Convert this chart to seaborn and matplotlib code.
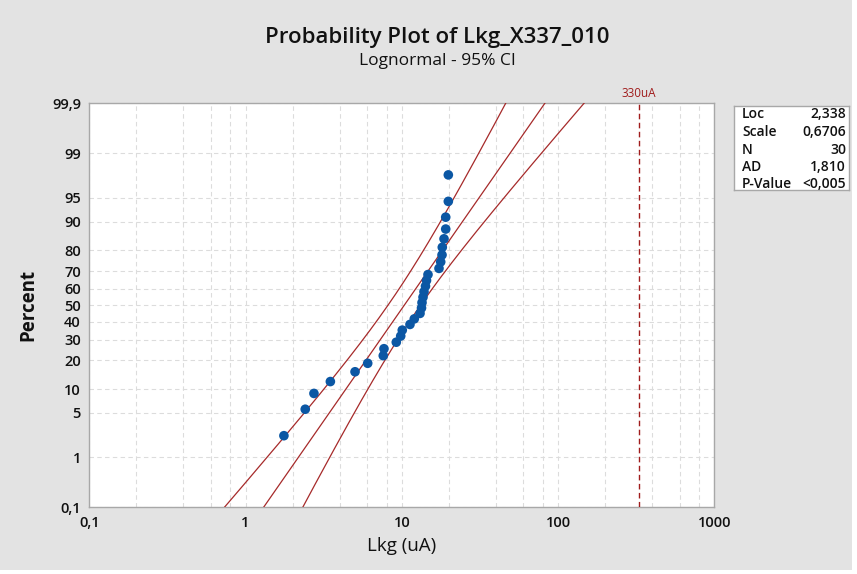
import numpy as np
import pandas as pd
import matplotlib
matplotlib.use("Agg")
import matplotlib.pyplot as plt
import matplotlib.transforms as mtransforms
from matplotlib.patches import Rectangle
import seaborn as sns
from statistics import NormalDist

# ---------------- data ----------------
lkg = [1.76, 2.41, 2.74, 3.49, 5.02, 6.05, 7.61, 7.69, 9.22, 9.84,
       10.07, 11.28, 12.02, 13.08, 13.37, 13.47, 13.67, 13.87, 14.18, 14.39,
       14.71, 17.30, 17.74, 18.09, 18.16, 18.63, 19.10, 19.10, 19.85, 19.85]
percent = [2.303, 5.592, 8.882, 12.171, 15.461, 18.750, 22.039, 25.329, 28.618, 31.908,
           35.197, 38.487, 41.776, 45.066, 48.355, 51.645, 54.934, 58.224, 61.513, 64.803,
           68.092, 71.382, 74.671, 77.961, 81.250, 84.539, 87.829, 91.118, 94.408, 97.697]
loc_ = 2.338
scale_ = 0.6706
n_obs = 30
stat_names = ["Loc", "Scale", "N", "AD", "P-Value"]
stat_values = ["2,338", "0,6706", "30", "1,810", "<0,005"]
limit_value = 330
limit_label = "330uA"
x_ticks = [0.1, 1, 10, 100, 1000]
x_ticklabels = ["0,1", "1", "10", "100", "1000"]
y_ticks = [0.1, 1, 5, 10, 20, 30, 40, 50, 60, 70, 80, 90, 95, 99, 99.9]
y_ticklabels = ["0,1", "1", "5", "10", "20", "30", "40", "50", "60", "70",
                "80", "90", "95", "99", "99,9"]

# ---------------- probability scale ----------------
_nd = NormalDist()
_ppf = np.vectorize(_nd.inv_cdf, otypes=[float])
_cdf = np.vectorize(_nd.cdf, otypes=[float])


def fwd(p):
    p = np.clip(np.asarray(p, dtype=float) / 100.0, 1e-12, 1 - 1e-12)
    return _ppf(p)


def inv(z):
    return _cdf(np.asarray(z, dtype=float)) * 100.0


sns.set_theme(style="white")
plt.rcParams["font.family"] = ["Open Sans", "DejaVu Sans"]

W, H = 857, 574
fig = plt.figure(figsize=(W / 100, H / 100), dpi=100, facecolor="white")
fig.patches.append(Rectangle((0, 4 / H), 852 / W, 570 / H, transform=fig.transFigure,
                             facecolor="#E3E3E3", edgecolor="none", zorder=-10))

ax = fig.add_axes([89.3 / W, 1 - 507.3 / H, 625 / W, 404 / H])
ax.set_facecolor("white")
ax.set_xscale("log")
ax.set_yscale("function", functions=(fwd, inv))

# fitted line and 95% CI from displayed parameters
z = np.linspace(-3.4, 3.4, 300)
pct_line = inv(z)
ln_fit = loc_ + z * scale_
se = scale_ * np.sqrt(1.0 / n_obs + z ** 2 / (2.0 * n_obs))
lines = pd.DataFrame({
    "pct": np.concatenate([pct_line] * 3),
    "x": np.concatenate([np.exp(ln_fit), np.exp(ln_fit - 1.96 * se), np.exp(ln_fit + 1.96 * se)]),
    "which": ["fit"] * len(z) + ["lo"] * len(z) + ["hi"] * len(z),
})
line_col = "#A62A2A"
sns.lineplot(data=lines, x="x", y="pct", units="which", estimator=None, sort=False,
             color=line_col, lw=0.9, ax=ax, zorder=3)

pts = pd.DataFrame({"lkg": lkg, "percent": percent})
sns.scatterplot(data=pts, x="lkg", y="percent", s=48, color="#0B57A4",
                edgecolor="none", ax=ax, zorder=5)

ax.axvline(limit_value, color="#A01C1C", ls=(0, (4, 2.5)), lw=1.0, zorder=4)
trans = mtransforms.blended_transform_factory(ax.transData, ax.transAxes)
ax.text(limit_value, 1.008, limit_label, transform=trans, ha="center", va="bottom",
        color="#A01C1C", fontsize=8.5)

ax.set_xlim(0.1, 1000)
ax.set_ylim(0.1, 99.9)

ax.set_xticks(x_ticks)
ax.set_xticklabels(x_ticklabels)
minor = [k * 10.0 ** d for d in range(-1, 3) for k in (2, 4, 6, 8)]
ax.set_xticks(minor, minor=True)
ax.xaxis.set_minor_formatter(matplotlib.ticker.NullFormatter())
ax.set_yticks(y_ticks)
ax.set_yticklabels(y_ticklabels)
ax.yaxis.set_minor_locator(matplotlib.ticker.NullLocator())

grid_kw = dict(color="#DCDCDC", lw=0.8, ls=(0, (4, 3)))
ax.grid(which="both", axis="x", **grid_kw)
ax.grid(which="major", axis="y", **grid_kw)
ax.set_axisbelow(True)

for s in ax.spines.values():
    s.set_color("#A8A8A8")
    s.set_linewidth(1.0)
ax.tick_params(axis="both", which="major", direction="out", length=4, width=0.9,
               color="#A8A8A8", labelsize=10.5, labelcolor="#111111", pad=2)
ax.tick_params(axis="x", which="minor", direction="out", length=0)
for lab in ax.get_xticklabels() + ax.get_yticklabels():
    lab.set_fontweight("semibold")

ax.set_xlabel("Lkg (uA)", fontsize=13.5, color="#111111", labelpad=5)
ax.set_ylabel("Percent", fontsize=13.5, color="#111111", fontweight="bold", labelpad=10)

fig.text(437 / W, 1 - 37 / H, "Probability Plot of Lkg_X337_010", ha="center", va="center",
         fontsize=16, fontweight="semibold", color="#111111")
fig.text(437 / W, 1 - 61 / H, "Lognormal - 95% CI", ha="center", va="center",
         fontsize=12.5, color="#111111")

# statistics box
bx = fig.add_axes([734 / W, 1 - 190 / H, 115 / W, 84 / H])
bx.set_facecolor("white")
bx.set_xticks([]); bx.set_yticks([])
for s in bx.spines.values():
    s.set_color("#A8A8A8"); s.set_linewidth(1.0)
rows_y = [113.5, 132, 150, 167, 184]
for name, val, yy in zip(stat_names, stat_values, rows_y):
    fig.text(742 / W, 1 - yy / H, name, ha="left", va="center", fontsize=10,
             fontweight="semibold", color="#111111")
    fig.text(846 / W, 1 - yy / H, val, ha="right", va="center", fontsize=10,
             fontweight="semibold", color="#111111")

fig.savefig("out.png", dpi=100, facecolor=fig.get_facecolor())
